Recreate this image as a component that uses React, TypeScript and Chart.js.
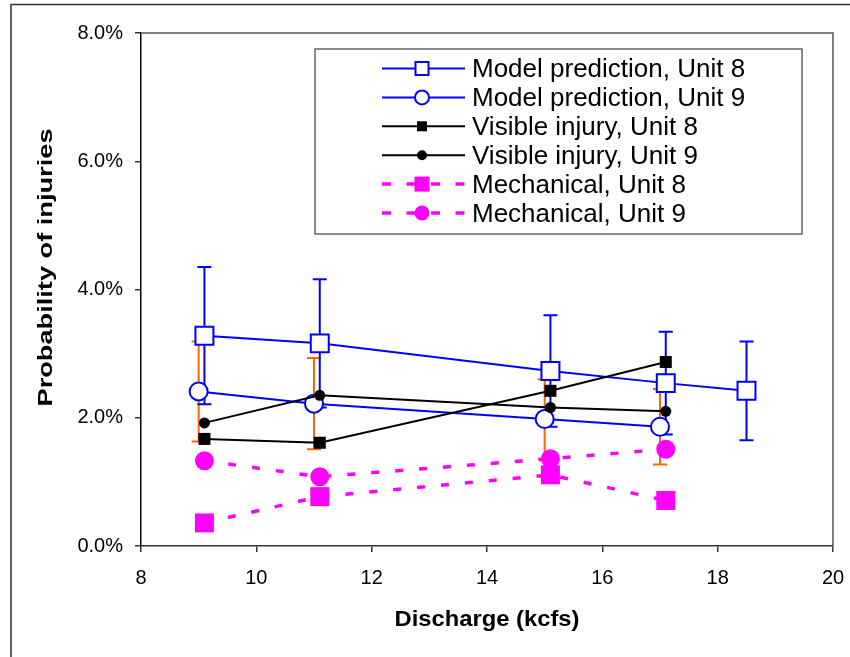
import React, { useEffect, useRef } from 'react';
import { Chart, registerables } from 'chart.js';

Chart.register(...registerables);

// ---- Data (percent values) ----
const dischargeModel8 = [9.1, 11.1, 15.1, 17.1, 18.5];
const modelUnit8 = [3.28, 3.16, 2.73, 2.54, 2.42];
const modelUnit8Err = [1.07, 1.0, 0.87, 0.8, 0.77];

const dischargeModel9 = [9.0, 11.0, 15.0, 17.0];
const modelUnit9 = [2.41, 2.22, 1.98, 1.86];
const modelUnit9Err = [0.78, 0.71, 0.62, 0.59];

const dischargeObserved = [9.1, 11.1, 15.1, 17.1];
const visibleUnit8 = [1.67, 1.61, 2.42, 2.87];
const visibleUnit9 = [1.92, 2.35, 2.16, 2.1];
const mechanicalUnit8 = [0.36, 0.77, 1.11, 0.71];
const mechanicalUnit9 = [1.33, 1.08, 1.36, 1.51];

const xMin = 8;
const xMax = 20;
const xStep = 2;
const yMin = 0;
const yMax = 8;
const yStep = 2;

const seriesLabels = [
  'Model prediction, Unit 8',
  'Model prediction, Unit 9',
  'Visible injury, Unit 8',
  'Visible injury, Unit 9',
  'Mechanical, Unit 8',
  'Mechanical, Unit 9',
];

const xTitle = 'Discharge (kcfs)';
const yTitle = 'Probability of injuries';

const BLUE = '#0000FF';
const ORANGE = '#FF6600';
const BLACK = '#000000';
const MAGENTA = '#FF00FF';

const toPts = (xs: number[], ys: number[]) => xs.map((x, i) => ({ x, y: ys[i] }));

const legendStyles = [
  { color: BLUE, dash: [] as number[], shape: 'rect', size: 13, fill: '#ffffff', lw: 2 },
  { color: BLUE, dash: [] as number[], shape: 'circle', size: 14, fill: '#ffffff', lw: 2 },
  { color: BLACK, dash: [] as number[], shape: 'rect', size: 10, fill: BLACK, lw: 2 },
  { color: BLACK, dash: [] as number[], shape: 'circle', size: 10, fill: BLACK, lw: 2 },
  { color: MAGENTA, dash: [9, 15.5], shape: 'rect', size: 15, fill: MAGENTA, lw: 3.5 },
  { color: MAGENTA, dash: [9, 15.5], shape: 'circle', size: 15, fill: MAGENTA, lw: 3.5 },
];

const errorBarPlugin = {
  id: 'errorBars',
  beforeDatasetsDraw(chart: any) {
    const { ctx, scales } = chart;
    const xs = scales.x;
    const ys = scales.y;
    const draw = (xv: number[], yv: number[], ev: number[], color: string) => {
      ctx.save();
      ctx.strokeStyle = color;
      ctx.lineWidth = 2;
      for (let i = 0; i < xv.length; i++) {
        const px = xs.getPixelForValue(xv[i]);
        const top = ys.getPixelForValue(yv[i] + ev[i]);
        const bot = ys.getPixelForValue(yv[i] - ev[i]);
        ctx.beginPath();
        ctx.moveTo(px, top);
        ctx.lineTo(px, bot);
        ctx.moveTo(px - 7, top);
        ctx.lineTo(px + 7, top);
        ctx.moveTo(px - 7, bot);
        ctx.lineTo(px + 7, bot);
        ctx.stroke();
      }
      ctx.restore();
    };
    draw(dischargeModel9, modelUnit9, modelUnit9Err, ORANGE);
    draw(dischargeModel8, modelUnit8, modelUnit8Err, BLUE);
  },
};

const framePlugin = {
  id: 'frameAndLegend',
  afterDraw(chart: any) {
    const { ctx, chartArea } = chart;
    const { left, right, top, bottom } = chartArea;
    ctx.save();
    // outer chart border (partially visible)
    ctx.strokeStyle = '#333333';
    ctx.lineWidth = 1.5;
    ctx.beginPath();
    ctx.moveTo(11, chart.height);
    ctx.lineTo(11, 4.5);
    ctx.lineTo(chart.width, 4.5);
    ctx.stroke();

    // plot area top and right borders
    ctx.strokeStyle = '#555555';
    ctx.lineWidth = 1.5;
    ctx.beginPath();
    ctx.moveTo(left, top);
    ctx.lineTo(right, top);
    ctx.lineTo(right, bottom);
    ctx.stroke();

    // axis titles (stretched like the reference)
    ctx.fillStyle = '#000000';
    ctx.textAlign = 'center';
    ctx.textBaseline = 'middle';
    ctx.font = 'bold 22px "Liberation Sans", Arial, sans-serif';
    let w = ctx.measureText(xTitle).width;
    ctx.save();
    ctx.translate((left + right) / 2, bottom + 74);
    ctx.scale(185 / w, 1);
    ctx.fillText(xTitle, 0, 0);
    ctx.restore();

    ctx.font = 'bold 21px "Liberation Sans", Arial, sans-serif';
    w = ctx.measureText(yTitle).width;
    ctx.save();
    ctx.translate(left - 95, (top + bottom) / 2 - 22);
    ctx.rotate(-Math.PI / 2);
    ctx.scale(278 / w, 1);
    ctx.fillText(yTitle, 0, 0);
    ctx.restore();

    // legend
    const bx = left + 174;
    const by = top + 16;
    const bw = right - 31 - bx;
    const bh = 185;
    ctx.fillStyle = '#ffffff';
    ctx.fillRect(bx, by, bw, bh);
    ctx.strokeStyle = '#666666';
    ctx.lineWidth = 1.5;
    ctx.strokeRect(bx, by, bw, bh);

    const lx0 = bx + 67;
    const lx1 = bx + 150;
    const mx = bx + 107;
    const tx = bx + 157;
    ctx.font = '26px "Liberation Sans", Arial, sans-serif';
    ctx.textAlign = 'left';
    ctx.textBaseline = 'alphabetic';
    seriesLabels.forEach((label, i) => {
      const st = legendStyles[i];
      const ry = by + 19.5 + i * 28.9;
      ctx.save();
      ctx.strokeStyle = st.color;
      ctx.lineWidth = st.lw;
      ctx.setLineDash(st.dash);
      ctx.beginPath();
      ctx.moveTo(lx0, ry);
      ctx.lineTo(lx1, ry);
      ctx.stroke();
      ctx.setLineDash([]);
      ctx.lineWidth = 2;
      ctx.fillStyle = st.fill;
      ctx.strokeStyle = st.color;
      ctx.beginPath();
      if (st.shape === 'rect') {
        ctx.rect(mx - st.size / 2, ry - st.size / 2, st.size, st.size);
      } else {
        ctx.arc(mx, ry, st.size / 2, 0, Math.PI * 2);
      }
      ctx.fill();
      if (st.fill === '#ffffff') ctx.stroke();
      ctx.restore();
      ctx.fillStyle = '#000000';
      ctx.fillText(label, tx, ry + 8.5);
    });
    ctx.restore();
  },
};

export default function App() {
  const canvasRef = useRef<HTMLCanvasElement | null>(null);

  useEffect(() => {
    if (!canvasRef.current) return;
    const tickFont = { family: '"Liberation Sans", Arial, sans-serif', size: 20 };
    const chart = new Chart(canvasRef.current, {
      type: 'scatter',
      data: {
        datasets: [
          {
            label: seriesLabels[0],
            data: toPts(dischargeModel8, modelUnit8),
            showLine: true,
            borderColor: BLUE,
            borderWidth: 2,
            pointStyle: 'rect',
            pointRadius: 12.7,
            pointBorderWidth: 2,
            pointBorderColor: BLUE,
            pointBackgroundColor: '#ffffff',
            order: 6,
          },
          {
            label: seriesLabels[1],
            data: toPts(dischargeModel9, modelUnit9),
            showLine: true,
            borderColor: BLUE,
            borderWidth: 2,
            pointStyle: 'circle',
            pointRadius: 9,
            pointBorderWidth: 2,
            pointBorderColor: BLUE,
            pointBackgroundColor: '#ffffff',
            order: 5,
          },
          {
            label: seriesLabels[2],
            data: toPts(dischargeObserved, visibleUnit8),
            showLine: true,
            borderColor: BLACK,
            borderWidth: 2,
            pointStyle: 'rect',
            pointRadius: 8.5,
            pointBorderWidth: 0,
            pointBackgroundColor: BLACK,
            order: 4,
          },
          {
            label: seriesLabels[3],
            data: toPts(dischargeObserved, visibleUnit9),
            showLine: true,
            borderColor: BLACK,
            borderWidth: 2,
            pointStyle: 'circle',
            pointRadius: 5.5,
            pointBorderWidth: 0,
            pointBackgroundColor: BLACK,
            order: 3,
          },
          {
            label: seriesLabels[4],
            data: toPts(dischargeObserved, mechanicalUnit8),
            showLine: true,
            borderColor: MAGENTA,
            borderWidth: 3.5,
            borderDash: [8, 16],
            pointStyle: 'rect',
            pointRadius: 13.4,
            pointBorderWidth: 0,
            pointBackgroundColor: MAGENTA,
            order: 2,
          },
          {
            label: seriesLabels[5],
            data: toPts(dischargeObserved, mechanicalUnit9),
            showLine: true,
            borderColor: MAGENTA,
            borderWidth: 3.5,
            borderDash: [8, 16],
            pointStyle: 'circle',
            pointRadius: 9.5,
            pointBorderWidth: 0,
            pointBackgroundColor: MAGENTA,
            order: 1,
          },
        ],
      },
      options: {
        animation: false,
        responsive: false,
        devicePixelRatio: 1,
        layout: { padding: { top: 33, right: 17, left: 0, bottom: 0 } },
        plugins: {
          legend: { display: false },
          tooltip: { enabled: false },
          title: { display: false },
        },
        scales: {
          x: {
            type: 'linear',
            min: xMin,
            max: xMax,
            ticks: { stepSize: xStep, color: '#000', font: tickFont, padding: 14, maxRotation: 0 },
            grid: { drawOnChartArea: false, drawTicks: true, tickLength: 6, color: '#333', lineWidth: 1.5 },
            border: { color: '#333', width: 1.5 },
            afterFit: (s: any) => {
              s.height = 111;
              s.paddingLeft = 0;
              s.paddingRight = 0;
            },
          },
          y: {
            type: 'linear',
            min: yMin,
            max: yMax,
            ticks: {
              stepSize: yStep,
              color: '#000',
              font: tickFont,
              padding: 12,
              callback: (v: any) => Number(v).toFixed(1) + '%',
            },
            grid: { drawOnChartArea: false, drawTicks: true, tickLength: 6, color: '#333', lineWidth: 1.5 },
            border: { color: '#000', width: 1.5 },
            afterFit: (s: any) => {
              s.width = 141;
              s.paddingTop = 0;
              s.paddingBottom = 0;
            },
          },
        },
      } as any,
      plugins: [errorBarPlugin, framePlugin],
    });
    return () => chart.destroy();
  }, []);

  return (
    <div style={{ position: 'fixed', left: 0, top: 0, width: 850, height: 657, background: '#fff' }}>
      <canvas ref={canvasRef} width={850} height={657} style={{ display: 'block' }} />
    </div>
  );
}
